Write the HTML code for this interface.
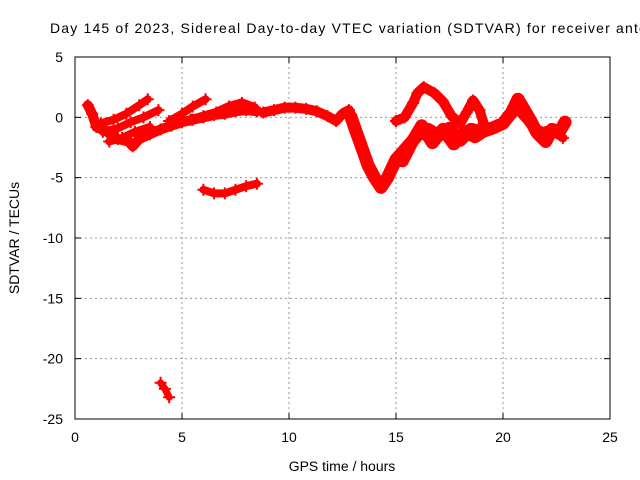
<!DOCTYPE html>
<html><head><meta charset="utf-8"><style>
body{margin:0;background:#fff;}
svg{display:block;font-family:"Liberation Sans",sans-serif;}
</style></head><body>
<svg id="c" width="640" height="480">
<text x="50" y="33" font-size="14" fill="#000" textLength="596" lengthAdjust="spacing">Day 145 of 2023, Sidereal Day-to-day VTEC variation (SDTVAR) for receiver antc</text>
<text x="342" y="471" font-size="14" text-anchor="middle">GPS time / hours</text>
<text transform="translate(19,238) rotate(-90)" font-size="14" text-anchor="middle">SDTVAR / TECUs</text>
<g id="grid"></g><g id="series"></g><g id="axes"></g>
</svg>
<script>
const xTicks=[0,5,10,15,20,25];
const yTicks=[5,0,-5,-10,-15,-20,-25];
const trackMainX=[0.6,0.8,1.0,1.5,2.0,2.5,2.7,3.0,3.5,4.0,4.5,5.0,5.5,6.0,6.5,7.0,7.5,8.0,8.5];
const trackMainY=[1.0,0.3,-0.8,-1.2,-1.8,-2.0,-2.4,-1.8,-1.4,-1.0,-0.7,-0.4,-0.2,0.0,0.2,0.3,0.5,0.6,0.5];
const trackArc1X=[1.2,1.8,2.4,3.0,3.4];
const trackArc1Y=[-0.5,-0.2,0.3,1.0,1.5];
const trackArc2X=[1.3,2.0,2.6,3.2,3.9];
const trackArc2Y=[-1.2,-0.9,-0.4,0.0,0.6];
const trackArc3X=[1.6,2.2,2.8,3.5];
const trackArc3Y=[-2.0,-1.7,-1.2,-0.8];
const trackArc4X=[4.4,5.0,5.5,6.1];
const trackArc4Y=[-0.3,0.3,0.9,1.5];
const trackArc5X=[5.4,6.0,6.6,7.2,7.8,8.4];
const trackArc5Y=[-0.2,0.1,0.4,0.9,1.2,0.8];
const trackMidX=[8.8,9.3,9.8,10.3,10.8,11.3,11.8,12.2,12.5,12.8,12.9];
const trackMidY=[0.4,0.6,0.8,0.8,0.7,0.5,0.1,-0.3,0.3,0.6,0.2];
const trackDipX=[12.9,13.1,13.4,13.7,14.0,14.3,14.6,15.0,15.5,16.0,16.5,17.0,17.5,18.0,18.5,19.0,19.5,20.0,20.4,20.7,21.2,21.6,22.0,22.3,22.6,22.9];
const trackDipY=[0.0,-1.0,-2.5,-4.0,-5.0,-5.8,-5.0,-3.5,-2.5,-1.5,-1.0,-1.5,-0.9,-1.9,-1.0,-1.2,-0.9,-0.5,0.4,1.5,0.0,-1.3,-2.0,-1.0,-1.3,-0.4];
const trackLowX=[15.3,15.7,16.2,16.7,17.2,17.7,18.2,18.7,19.2];
const trackLowY=[-3.6,-2.2,-0.7,-2.1,-1.0,-2.2,-1.2,-1.6,-1.0];
const trackUpX=[15.0,15.4,15.8,16.0,16.3,16.8,17.2,17.6,18.0,18.3,18.6,18.9,19.1];
const trackUpY=[-0.3,0.0,1.2,2.0,2.5,2.0,1.3,0.1,-0.5,0.4,1.4,0.6,-0.5];
const trackRX=[20.8,21.3,21.8,22.2,22.8];
const trackRY=[0.4,-0.6,-1.2,-1.0,-1.7];
const trackBotX=[6.0,6.5,7.0,7.5,8.0,8.5];
const trackBotY=[-6.0,-6.3,-6.3,-6.0,-5.7,-5.5];
const trackIsoX=[4.0,4.2,4.4];
const trackIsoY=[-22.0,-22.5,-23.2];
const tracks=[[trackMainX,trackMainY,10],[trackArc1X,trackArc1Y,8],[trackArc2X,trackArc2Y,8],[trackArc3X,trackArc3Y,8],[trackArc4X,trackArc4Y,8],[trackArc5X,trackArc5Y,9],[trackMidX,trackMidY,10],[trackDipX,trackDipY,13],[trackLowX,trackLowY,13],[trackUpX,trackUpY,10],[trackRX,trackRY,9],[trackBotX,trackBotY,8],[trackIsoX,trackIsoY,7]];
const NS="http://www.w3.org/2000/svg";
const L=75,R=610,T=57,B=419;
const sx=v=>L+(v-0)/25*(R-L);
const sy=v=>T+(5-v)/30*(B-T);
function mk(tag,attrs,parent){const e=document.createElementNS(NS,tag);for(const k in attrs)e.setAttribute(k,attrs[k]);parent.appendChild(e);return e;}
const grid=document.getElementById('grid'),axes=document.getElementById('axes'),ser=document.getElementById('series');
xTicks.forEach(t=>{
 if(t>0&&t<25){const g=mk('line',{x1:sx(t),x2:sx(t),y1:T,y2:B,stroke:'#999','stroke-dasharray':'2,3'},grid);
 
 }
 mk('line',{x1:sx(t),x2:sx(t),y1:B,y2:B-6,stroke:'#000'},axes);
 mk('line',{x1:sx(t),x2:sx(t),y1:T,y2:T+6,stroke:'#000'},axes);
 const tx=mk('text',{x:sx(t),y:B+23,'font-size':14,'text-anchor':'middle'},axes);tx.textContent=t;
 
 
});
yTicks.forEach(t=>{
 if(t<5&&t>-25){const g=mk('line',{x1:L,x2:R,y1:sy(t),y2:sy(t),stroke:'#999','stroke-dasharray':'2,3'},grid);
 
 }
 mk('line',{x1:L,x2:L+6,y1:sy(t),y2:sy(t),stroke:'#000'},axes);
 mk('line',{x1:R,x2:R-6,y1:sy(t),y2:sy(t),stroke:'#000'},axes);
 const tx=mk('text',{x:L-12,y:sy(t)+5,'font-size':14,'text-anchor':'end'},axes);tx.textContent=t;
 
 
});
const fr=mk('rect',{x:L,y:T,width:R-L,height:B-T,fill:'none',stroke:'#000'},axes);


tracks.forEach(([xs,ys,w])=>{
 const pts=xs.map((x,i)=>sx(x)+','+sy(ys[i])).join(' ');
 const pl=mk('polyline',{points:pts,fill:'none',stroke:'#f00','stroke-width':w,'stroke-linejoin':'round','stroke-linecap':'round'},ser);
 
 
 xs.forEach((x,i)=>{
  const p=mk('path',{d:`M${sx(x)-6},${sy(ys[i])}h12M${sx(x)},${sy(ys[i])-6}v12`,stroke:'#f00','stroke-width':2},ser);
  
  
 });
});
</script>
</body></html>
